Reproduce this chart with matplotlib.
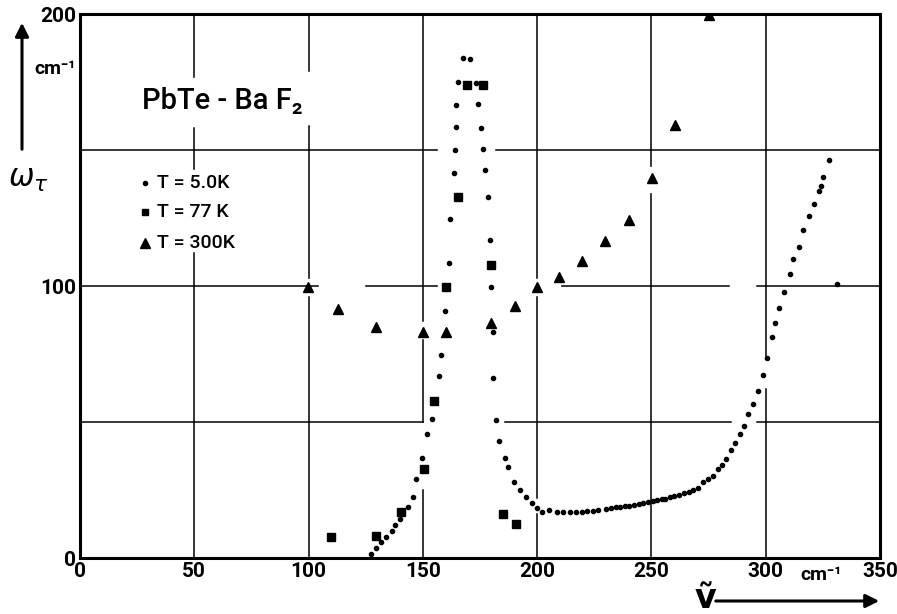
import numpy as np
import matplotlib.pyplot as plt

# T = 5.0 K  (small dots)
x_5k = [127.4, 129.6, 131.7, 133.9, 136.5, 137.8, 140.0, 143.3, 145.8, 147.0, 149.6, 151.8,
        153.8, 157.2, 157.9, 159.5, 161.4, 162.0, 163.5, 164.2, 164.6, 164.5, 165.5, 167.7,
        170.8, 173.1, 174.3, 175.6, 176.3, 177.3, 178.3, 179.4, 179.9, 180.5, 180.8, 182.0,
        183.4, 185.8, 187.4, 189.9, 192.5, 195.3, 197.9, 199.8, 202.3, 205.3, 208.5, 211.4,
        214.3, 217.0, 219.5, 221.7, 224.3, 226.7, 230.1, 232.1, 234.5, 236.2, 238.4, 240.3,
        242.5, 244.5, 246.4, 248.6, 250.8, 252.5, 254.5, 256.0, 258.1, 259.8, 261.9, 264.2,
        266.5, 268.3, 270.5, 272.4, 274.6, 276.8, 279.0, 280.7, 282.6, 284.6, 286.5, 288.7,
        290.6, 292.3, 294.5, 296.6, 298.6, 300.4, 302.6, 303.9, 305.8, 308.1, 310.6, 312.0,
        314.5, 316.4, 319.0, 321.1, 323.3, 324.0, 324.9, 327.5, 331.1]
y_5k = [1.5, 3.7, 6.0, 7.8, 9.8, 12.0, 14.2, 18.9, 22.4, 28.9, 36.9, 45.7,
        51.2, 66.8, 74.6, 90.8, 108.3, 124.7, 141.7, 149.9, 158.5, 166.4, 175.1, 183.9,
        183.6, 174.7, 166.8, 158.2, 150.4, 142.6, 132.6, 116.9, 99.5, 83.1, 66.3, 50.7,
        42.9, 36.9, 33.6, 28.1, 25.0, 22.3, 20.3, 18.5, 17.0, 17.6, 17.0, 16.8,
        16.8, 16.8, 17.0, 17.2, 17.3, 17.6, 17.9, 18.3, 18.6, 18.9, 19.1, 19.2,
        19.6, 20.0, 20.3, 20.6, 21.0, 21.3, 21.6, 21.8, 22.3, 22.8, 23.3, 23.8,
        24.4, 25.0, 25.6, 27.9, 28.9, 30.1, 32.6, 34.2, 36.3, 39.7, 42.2, 45.5,
        48.5, 52.8, 56.5, 61.3, 67.4, 73.5, 81.4, 86.4, 91.9, 97.7, 104.5, 109.8,
        114.3, 120.5, 125.7, 130.0, 134.8, 136.7, 140.2, 146.2, 100.7]

# T = 77 K  (squares)
x_77k = [109.8, 129.6, 140.3, 150.5, 154.9, 160.1, 165.2, 169.2, 176.3, 179.9, 185.0, 190.6]
y_77k = [7.8, 8.1, 16.8, 32.7, 57.6, 99.5, 132.8, 174.0, 174.0, 107.7, 16.3, 12.5]

# T = 300 K  (triangles)
x_300k = [99.9, 112.7, 129.6, 149.9, 160.1, 179.7, 190.3, 199.9, 209.7, 219.6, 229.8,
          240.0, 250.1, 260.3, 275.3]
y_300k = [99.7, 91.7, 85.0, 83.1, 83.1, 86.3, 92.6, 99.5, 103.4, 109.2, 116.7,
          124.3, 139.6, 159.1, 199.6]

x_ticks = [0, 50, 100, 150, 200, 250, 300, 350]
y_ticks = [0, 100, 200]
labels = ["T = 5.0K", "T = 77 K", "T = 300K"]

plt.rcParams['font.family'] = ['DejaVu Sans']
plt.rcParams['mathtext.fontset'] = 'dejavusans'
narrow = ['Roboto', 'DejaVu Sans']

fig = plt.figure(figsize=(8.97, 6.14), dpi=100)
ax = fig.add_axes([80 / 897, 56 / 614, 800 / 897, 544 / 614])
ax.set_xlim(0, 350)
ax.set_ylim(0, 200)

# Gitter mit Luecken wie in der Vorlage
vgaps = {50: [(112, 143), (158, 177)], 100: [(96, 103), (159, 179)],
         150: [(25, 50), (80, 87)], 200: [(16, 22), (96, 103)],
         250: [(134, 144)], 300: [(62, 74)]}
hgaps = {50: [(150, 186), (285, 296)], 100: [(104, 125), (156, 211), (284, 296)],
         150: [(156, 182)]}


def segs(lo, hi, gaps):
    out = []
    a = lo
    for g0, g1 in sorted(gaps):
        out.append((a, g0))
        a = g1
    out.append((a, hi))
    return out


for xv, g in vgaps.items():
    for a, b in segs(0, 200, g):
        ax.plot([xv, xv], [a, b], color='k', lw=1.1, zorder=1)
for yv, g in hgaps.items():
    for a, b in segs(0, 350, g):
        ax.plot([a, b], [yv, yv], color='k', lw=1.1, zorder=1)

ax.plot(x_5k, y_5k, 'o', color='k', ms=3.0, zorder=3)
ax.plot(x_77k, y_77k, 's', color='k', ms=6.0, zorder=3)
ax.plot(x_300k, y_300k, '^', color='k', ms=7.5, zorder=3)

for s in ax.spines.values():
    s.set_linewidth(2.2)

tick_font = dict(fontsize=15, fontweight='bold', family=narrow)
ax.set_xticks(x_ticks)
ax.set_xticklabels([str(v) for v in x_ticks], **tick_font)
ax.set_yticks(y_ticks)
ax.set_yticklabels([str(v) for v in y_ticks], **tick_font)
ax.tick_params(length=0, pad=3)

# Titel und Legende
ax.text(27, 168, "PbTe - Ba F₂", fontsize=21, fontweight='medium',
        va='center', ha='left', family=narrow)
mk = ['o', 's', '^']
ms = [3.0, 5.0, 6.5]
ly = [138, 127.2, 115.8]
for m, s, yy, lab in zip(mk, ms, ly, labels):
    ax.plot([28.4], [yy], m, color='k', ms=s, zorder=3)
    ax.text(33.7, yy, lab, fontsize=14, fontweight='medium', va='center', ha='left',
            family=narrow)

# Achsenbeschriftungen
ax.annotate('', xy=(22, 614 - 20), xytext=(22, 614 - 152), xycoords='figure pixels',
            arrowprops=dict(arrowstyle='-|>', lw=2.2, color='k', mutation_scale=20))
fig.text(28 / 897, 1 - 180 / 614, r"$\omega_\tau$", fontsize=22, ha='center', va='center')
fig.text(76 / 897, 1 - 69 / 614, "cm⁻¹", fontsize=14, fontweight='bold',
         ha='right', va='center', family=narrow)
fig.text(821 / 897, 1 - 575 / 614, "cm⁻¹", fontsize=14, fontweight='bold',
         ha='center', va='center', family=narrow)
fig.text(705 / 897, 1 - 599 / 614, "ṽ", fontsize=24, fontweight='bold',
         ha='center', va='center')
ax.annotate('', xy=(882, 614 - 601), xytext=(713, 614 - 601), xycoords='figure pixels',
            arrowprops=dict(arrowstyle='-|>', lw=2.2, color='k', mutation_scale=20))

fig.savefig('out.png', dpi=100)
